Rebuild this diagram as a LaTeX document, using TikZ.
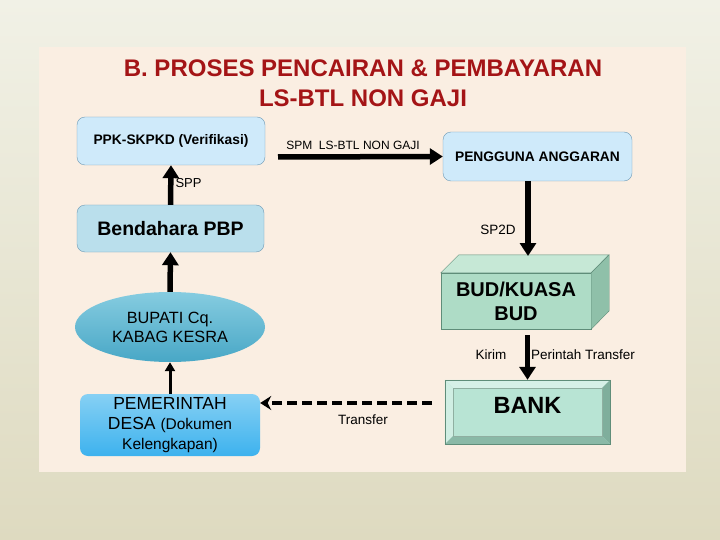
\documentclass[tikz,border=0pt]{standalone}
\usepackage{fontspec}
\setmainfont{Liberation Sans}
\usetikzlibrary{shapes.geometric,arrows.meta,calc}

\definecolor{bgtop}{HTML}{F1F1E6}
\definecolor{bgbot}{HTML}{DEDAC0}
\definecolor{panel}{HTML}{FAEEE2}
\definecolor{titlered}{HTML}{A41416}
\definecolor{paleblue}{HTML}{CFEAFA}
\definecolor{midblue}{HTML}{BADFEC}
\definecolor{boxline}{HTML}{6E9AB5}
\definecolor{tealtop}{HTML}{86CCE0}
\definecolor{tealbot}{HTML}{48A7C6}
\definecolor{skytop}{HTML}{86D0F4}
\definecolor{skybot}{HTML}{3DB2EE}
\definecolor{budfront}{HTML}{AEDCC6}
\definecolor{budtop}{HTML}{C6E8D6}
\definecolor{budside}{HTML}{8FC0A9}
\definecolor{budline}{HTML}{5F8D79}
\definecolor{bankface}{HTML}{B8E4D4}
\definecolor{banklight}{HTML}{D6F0E7}
\definecolor{bankdark}{HTML}{7FAE9C}

\begin{document}
\begin{tikzpicture}[x=1pt,y=-1pt]
  \tikzstyle{box}=[draw=boxline,rounded corners=8pt,inner sep=2pt,align=center]
  \tikzstyle{big}=[-{Triangle[length=13pt,width=16pt]},line width=5.5pt]
  \tikzstyle{lbl}=[font=\fontsize{13.5}{16}\selectfont]

  \useasboundingbox (0,0) rectangle (720,540);
  \shade[top color=bgtop,bottom color=bgbot] (0,0) rectangle (720,540);
  \fill[panel] (39,47) rectangle (686,472);

  % title
  \node[text=titlered,font=\bfseries\fontsize{24}{30}\selectfont,align=center] (title) at (363,83)
    {B. PROSES PENCAIRAN \& PEMBAYARAN\\LS-BTL NON GAJI};

  % left column
  \node[box,fill=paleblue,minimum width=188pt,minimum height=48pt,
        font=\bfseries\fontsize{13.8}{16}\selectfont] (ppk) at (171,141) {PPK-SKPKD (Verifikasi)};
  \node[box,fill=midblue,minimum width=187pt,minimum height=47pt,
        font=\bfseries\fontsize{19.5}{23}\selectfont] (bend) at (170.5,228.5) {Bendahara PBP};
  \node[ellipse,draw=none,top color=tealtop,bottom color=tealbot,minimum width=190pt,minimum height=70pt,
        align=center,font=\fontsize{16.3}{19}\selectfont] (bupati) at (170,327) {BUPATI Cq.\\KABAG KESRA};
  \node[box,draw=none,top color=skytop,bottom color=skybot,minimum width=180pt,minimum height=62pt,
        inner sep=1pt,font=\fontsize{17.5}{20}\selectfont] (desa) at (170,425)
    {PEMERINTAH\\DESA {\fontsize{15.5}{20}\selectfont(Dokumen}\\{\fontsize{15.5}{18}\selectfont Kelengkapan)}};

  % right column
  \node[box,fill=paleblue,minimum width=189pt,minimum height=49pt,
        font=\bfseries\fontsize{13.8}{16}\selectfont] (pg) at (537.5,156.5) {PENGGUNA ANGGARAN};

  \node[draw=budline,fill=budfront,minimum width=150pt,minimum height=56pt,inner sep=0pt,align=center,
        font=\bfseries\fontsize{20}{24}\selectfont] (bud) at (516,301) {BUD/KUASA\\BUD};
  \filldraw[draw=budline,fill=budtop] (bud.north west) -- ++(18,-18) -- ++(150,0) -- (bud.north east) -- cycle;
  \filldraw[draw=budline,fill=budside] (bud.north east) -- ++(18,-18) -- ++(0,56) -- (bud.south east) -- cycle;
  \coordinate (budtop) at (528,256);

  \node[draw=budline,fill=bankface,minimum width=165pt,minimum height=64pt,inner sep=0pt] (bank) at (527.5,412) {};
  \fill[banklight] (bank.north west) -- (bank.north east) -- ++(-8,8) -- ($(bank.north west)+(8,8)$) -- cycle;
  \fill[banklight!80!bankface] (bank.north west) -- ($(bank.north west)+(8,8)$) -- ($(bank.south west)+(8,-8)$) -- (bank.south west) -- cycle;
  \fill[bankdark] (bank.north east) -- (bank.south east) -- ++(-8,-8) -- ($(bank.north east)+(-8,8)$) -- cycle;
  \fill[bankdark!80!bankface] (bank.south west) -- (bank.south east) -- ($(bank.south east)+(-8,-8)$) -- ($(bank.south west)+(8,-8)$) -- cycle;
  \draw[budline] (bank.north west) rectangle (bank.south east);
  \draw[budline!70] ($(bank.north west)+(8,8)$) rectangle ($(bank.south east)+(-8,-8)$);
  \node[font=\bfseries\fontsize{23.5}{28}\selectfont] (banktxt) at ([yshift=7]bank.center) {BANK};

  % connectors
  \draw[big] (bend.north) -- (ppk.south);
  \draw[big] (bupati.north) -- (bend.south);
  \draw[-{Triangle[length=9pt,width=10pt]},line width=3pt] (desa.north) -- (bupati.south);

  \coordinate (spm) at (278,157);
  \draw[big] (spm) -- (pg.west);
  \draw[big] (pg.south -| budtop) -- (budtop);
  \draw[big,shorten <=6pt] (bud.south -| bank.north) -- (bank.north);

  \coordinate (trf) at (432,403);
  \draw[-{Stealth[length=11pt,width=14pt]},line width=3.5pt,dash pattern=on 10pt off 5pt]
    (trf) -- (trf -| desa.east);

  % labels
  \node[lbl,font=\fontsize{13}{15}\selectfont,anchor=west] (spplbl) at (172,183) {SPP};
  \node[lbl,font=\fontsize{12}{14}\selectfont] (spmlbl) at (353,145) {SPM\ \ LS-BTL NON GAJI};
  \node[lbl] (sp2dlbl) at (498,230) {SP2D};
  \node[lbl] (kirimlbl) at (491,355) {Kirim};
  \node[lbl] (perlbl) at (583,355) {Perintah Transfer};
  \node[lbl] (trflbl) at (363,420) {Transfer};
\end{tikzpicture}
\end{document}
